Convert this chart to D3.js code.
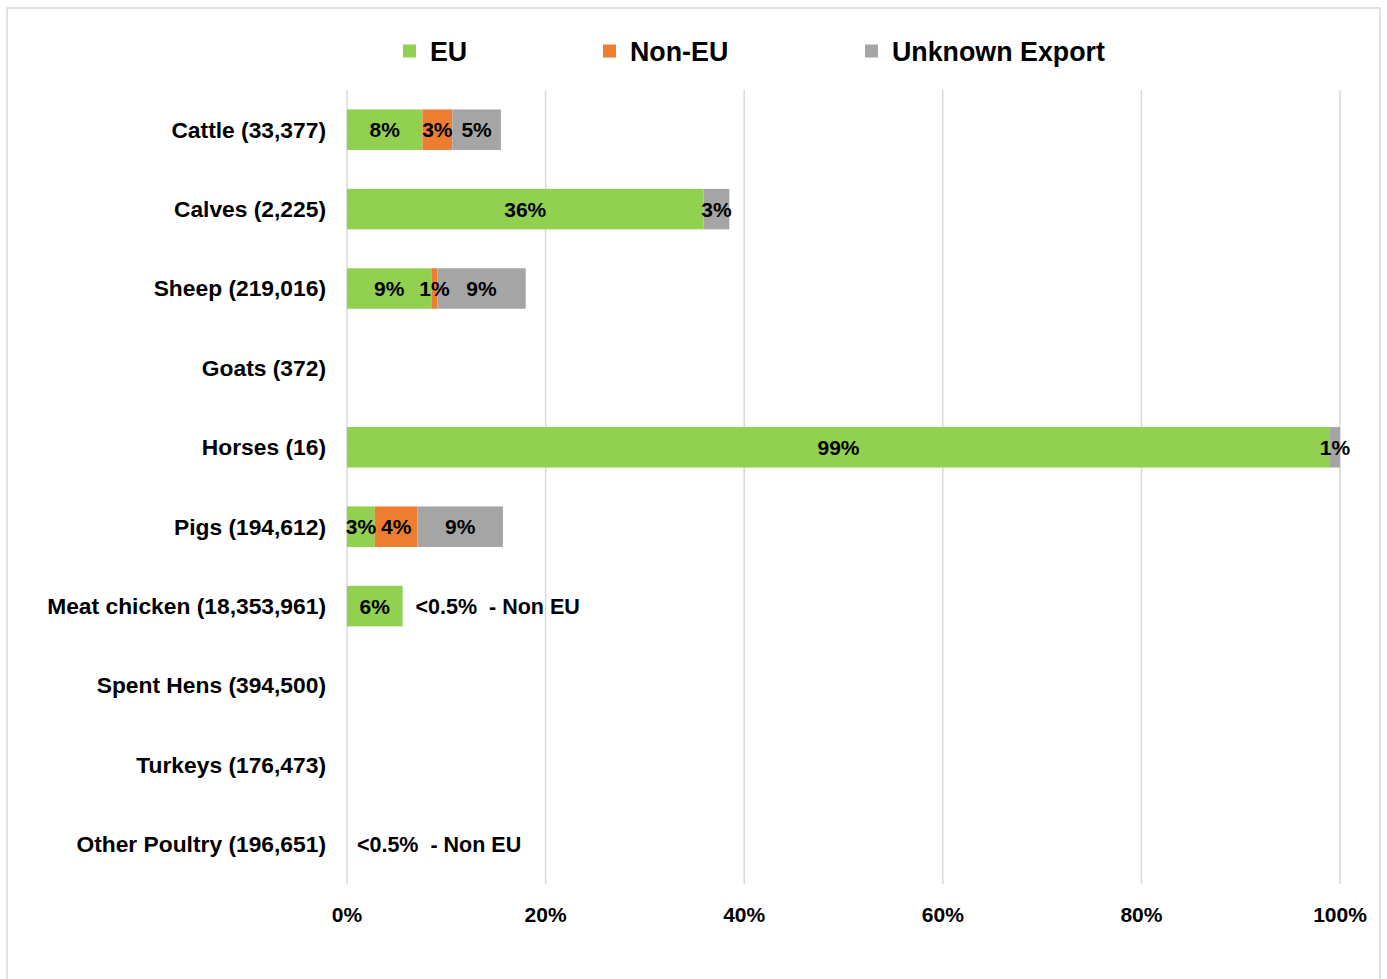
<!DOCTYPE html>
<meta charset="utf-8">
<style>
body { margin: 0; background: #fff; }
text { font-family: "Liberation Sans", Arial, sans-serif; font-weight: bold; fill: #000; }
</style>
<svg width="1387" height="979"></svg>
<script src="https://cdn.jsdelivr.net/npm/d3@7"></script>
<script>

var categories = ["Cattle (33,377)", "Calves (2,225)", "Sheep (219,016)", "Goats (372)", "Horses (16)",
  "Pigs (194,612)", "Meat chicken (18,353,961)", "Spent Hens (394,500)", "Turkeys (176,473)", "Other Poultry (196,651)"];
var eu      = [7.6, 35.9, 8.5, 0, 99.0, 2.8, 5.6, 0, 0, 0];
var nonEu   = [3.0, 0,    0.6, 0, 0,    4.3, 0,   0, 0, 0];
var unknown = [4.9, 2.6,  8.9, 0, 1.0,  8.6, 0,   0, 0, 0];
var seriesNames = ["EU", "Non-EU", "Unknown Export"];
var colors = ["#92d050", "#ed7d31", "#a5a5a5"];
var xTicks = [0, 20, 40, 60, 80, 100];
// small-share notes written next to the bars
var notes = [
  {cat: "Meat chicken (18,353,961)", at: 6.9, text: "<0.5%  - Non EU"},
  {cat: "Other Poultry (196,651)", at: 1.0, text: "<0.5%  - Non EU"}
];

var svg = d3.select("svg"),
    margin = {top: 90, right: 47, bottom: 95, left: 347},
    width = +svg.attr("width") - margin.left - margin.right,
    height = +svg.attr("height") - margin.top - margin.bottom;

// chart frame
svg.append("rect")
    .attr("x", 7).attr("y", 8)
    .attr("width", 1373).attr("height", 1000)
    .attr("fill", "none")
    .attr("stroke", "#d9d9d9")
    .attr("stroke-width", 1.5);

var g = svg.append("g").attr("transform", "translate(" + margin.left + "," + margin.top + ")");

var x = d3.scaleLinear().domain([0, 100]).range([0, width]);
var y = d3.scaleBand().domain(categories).range([0, height]).paddingInner(0.49).paddingOuter(0.245);

var rows = categories.map(function(c, i) {
  return {cat: c, "EU": eu[i], "Non-EU": nonEu[i], "Unknown Export": unknown[i]};
});

// grid
g.selectAll(".grid")
  .data(xTicks)
  .enter().append("line")
    .attr("x1", function(d) { return x(d); })
    .attr("x2", function(d) { return x(d); })
    .attr("y1", 0)
    .attr("y2", height)
    .attr("stroke", "#d9d9d9")
    .attr("stroke-width", 1.5);

g.selectAll(".tick-label")
  .data(xTicks)
  .enter().append("text")
    .attr("x", function(d) { return x(d); })
    .attr("y", height + 38)
    .attr("text-anchor", "middle")
    .style("font-size", "21px")
    .text(function(d) { return d + "%"; });

g.selectAll(".cat-label")
  .data(categories)
  .enter().append("text")
    .attr("x", -21)
    .attr("y", function(d) { return y(d) + y.bandwidth() / 2; })
    .attr("dy", "0.35em")
    .attr("text-anchor", "end")
    .style("font-size", "22.8px")
    .text(function(d) { return d; });

var stack = d3.stack().keys(seriesNames)(rows);

var serie = g.selectAll(".serie")
  .data(stack)
  .enter().append("g")
    .attr("fill", function(d, i) { return colors[i]; });

serie.selectAll("rect")
  .data(function(d) { return d.filter(function(p) { return p[1] - p[0] > 0; }); })
  .enter().append("rect")
    .attr("x", function(d) { return x(d[0]); })
    .attr("y", function(d) { return y(d.data.cat); })
    .attr("width", function(d) { return x(d[1]) - x(d[0]); })
    .attr("height", y.bandwidth());

// value labels on top of all segments
var segs = [];
stack.forEach(function(s) {
  s.forEach(function(p) { if (p[1] - p[0] > 0) segs.push(p); });
});

g.selectAll(".val")
  .data(segs)
  .enter().append("text")
    .attr("x", function(d) { return x((d[0] + d[1]) / 2); })
    .attr("y", function(d) { return y(d.data.cat) + y.bandwidth() / 2; })
    .attr("dy", "0.36em")
    .attr("text-anchor", "middle")
    .style("font-size", "21px")
    .text(function(d) { return Math.round(d[1] - d[0]) + "%"; });

g.selectAll(".note")
  .data(notes)
  .enter().append("text")
    .attr("x", function(d) { return x(d.at); })
    .attr("y", function(d) { return y(d.cat) + y.bandwidth() / 2; })
    .attr("dy", "0.36em")
    .style("font-size", "21.5px")
    .style("white-space", "pre")
    .text(function(d) { return d.text; });

// legend
var legendX = [403, 603, 865];
var legend = svg.selectAll(".legend")
  .data(seriesNames)
  .enter().append("g")
    .attr("transform", function(d, i) { return "translate(" + legendX[i] + ",51)"; });

legend.append("rect")
    .attr("x", 0).attr("y", -6.5)
    .attr("width", 13).attr("height", 13)
    .attr("fill", function(d, i) { return colors[i]; });

legend.append("text")
    .attr("x", 27)
    .attr("dy", "0.36em")
    .style("font-size", "26.8px")
    .text(function(d) { return d; });

</script>
